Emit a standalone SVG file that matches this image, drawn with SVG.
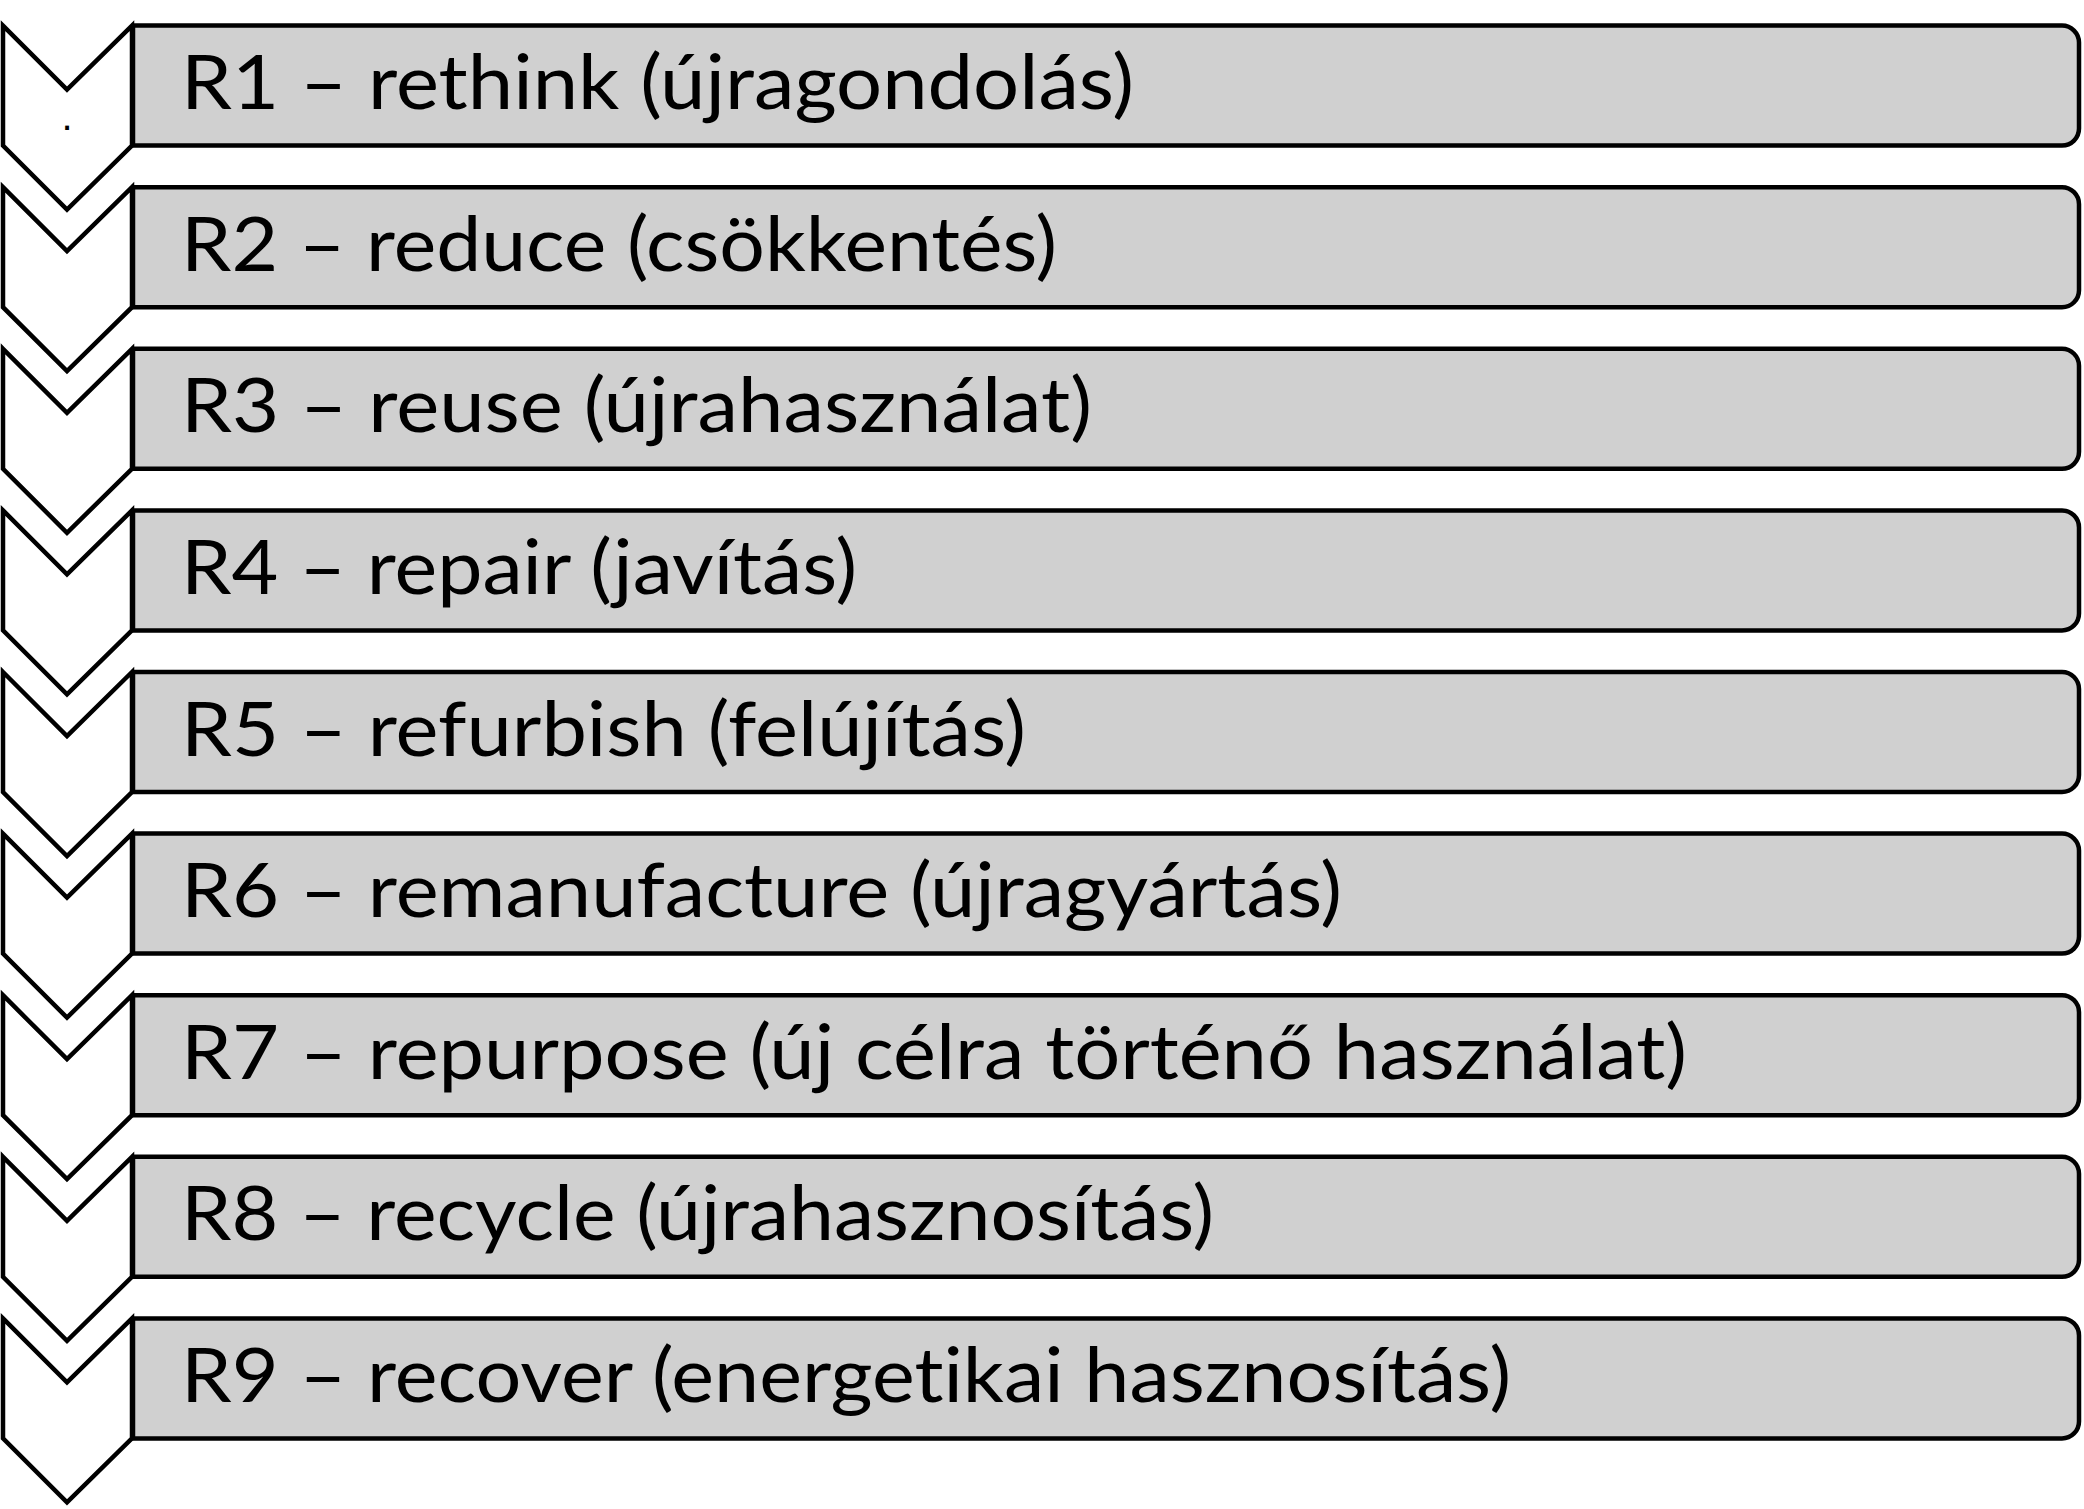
<svg xmlns="http://www.w3.org/2000/svg" width="2084" height="1509" viewBox="0 0 2084 1509">
<defs>
<style>
.bar{fill:#d0d0d0;stroke:#000;stroke-width:4.5;stroke-linejoin:round}
.chev{fill:#fff;stroke:#000;stroke-width:4.5;stroke-linejoin:miter;stroke-miterlimit:10}
.lbl{font-family:Lato,"Liberation Sans",sans-serif;font-size:75px;fill:#000;font-variant-ligatures:none;font-feature-settings:"liga" 0,"clig" 0}
</style>
<path id="barShape" class="bar" d="M133,0 H2062 A17,17 0 0 1 2079,17 V103 A17,17 0 0 1 2062,120 H133 Z"/>
<polygon id="chevShape" class="chev" points="3,0 67,64 132,0 132,120 67,184 3,120"/>
</defs>
<rect width="2084" height="1509" fill="#fff"/>
<g id="connectors"></g>
<g id="n1" transform="translate(0,25.6)"><use href="#barShape"/><use href="#chevShape"/><text class="lbl" x="181" y="83.7" textLength="953" lengthAdjust="spacingAndGlyphs">R1 – rethink (újragondolás)</text><text x="67" y="104" text-anchor="middle" style="font-family:'Liberation Sans',sans-serif;font-size:40px">.</text></g>
<g id="n2" transform="translate(0,187.2)"><use href="#barShape"/><use href="#chevShape"/><text class="lbl" x="181" y="83.7" textLength="876" lengthAdjust="spacingAndGlyphs">R2 – reduce (csökkentés)</text></g>
<g id="n3" transform="translate(0,348.8)"><use href="#barShape"/><use href="#chevShape"/><text class="lbl" x="181" y="83.7" textLength="911" lengthAdjust="spacingAndGlyphs">R3 – reuse (újrahasználat)</text></g>
<g id="n4" transform="translate(0,510.4)"><use href="#barShape"/><use href="#chevShape"/><text class="lbl" x="181" y="83.7" textLength="676" lengthAdjust="spacingAndGlyphs">R4 – repair (javítás)</text></g>
<g id="n5" transform="translate(0,672)"><use href="#barShape"/><use href="#chevShape"/><text class="lbl" x="181" y="83.7" textLength="845" lengthAdjust="spacingAndGlyphs">R5 – refurbish (felújítás)</text></g>
<g id="n6" transform="translate(0,833.6)"><use href="#barShape"/><use href="#chevShape"/><text class="lbl" x="181" y="83.7" textLength="1161" lengthAdjust="spacingAndGlyphs">R6 – remanufacture (újragyártás)</text></g>
<g id="n7" transform="translate(0,995.2)"><use href="#barShape"/><use href="#chevShape"/><text class="lbl" x="181" y="83.7" textLength="1506" lengthAdjust="spacingAndGlyphs">R7 – repurpose (új célra történő használat)</text></g>
<g id="n8" transform="translate(0,1156.8)"><use href="#barShape"/><use href="#chevShape"/><text class="lbl" x="181" y="83.7" textLength="1033" lengthAdjust="spacingAndGlyphs">R8 – recycle (újrahasznosítás)</text></g>
<g id="n9" transform="translate(0,1318.4)"><use href="#barShape"/><use href="#chevShape"/><text class="lbl" x="181" y="83.7" textLength="1330" lengthAdjust="spacingAndGlyphs">R9 – recover (energetikai hasznosítás)</text></g>
</svg>
